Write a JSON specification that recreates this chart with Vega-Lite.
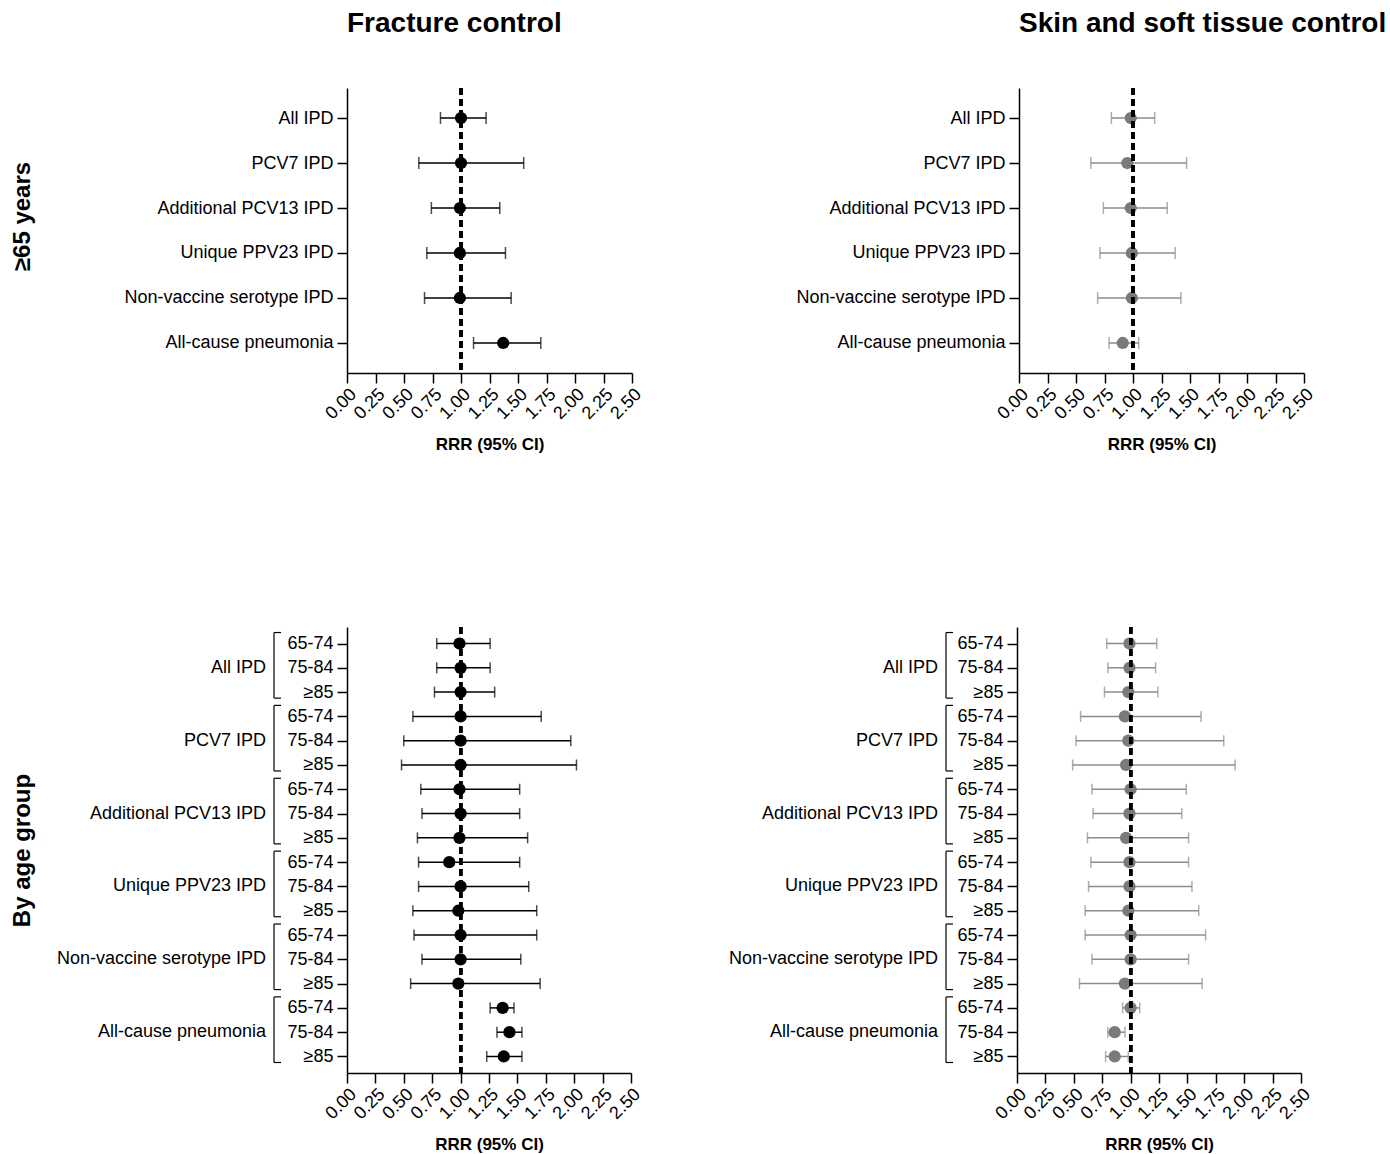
{
  "$schema": "https://vega.github.io/schema/vega-lite/v6.json",
  "padding": {"left": 10, "top": 9, "right": 5, "bottom": 0},
  "background": "white",
  "config": {
    "font": "Liberation Sans",
    "view": {"stroke": null},
    "axis": {"grid": false, "domainColor": "black", "tickColor": "black", "labelColor": "black", "titleColor": "black", "domainWidth": 1.5, "tickWidth": 1.5, "labelFontSize": 18, "labelFont": "Liberation Sans", "titleFont": "Liberation Sans", "labelOverlap": false, "labelLimit": 400},
    "title": {"color": "black", "font": "Liberation Sans"}
  },
  "datasets": {
    "topFrac": [
      {"outcome": "All IPD", "rrr": 1.00, "lo": 0.82, "hi": 1.22},
      {"outcome": "PCV7 IPD", "rrr": 1.00, "lo": 0.63, "hi": 1.55},
      {"outcome": "Additional PCV13 IPD", "rrr": 0.99, "lo": 0.74, "hi": 1.34},
      {"outcome": "Unique PPV23 IPD", "rrr": 0.99, "lo": 0.70, "hi": 1.39},
      {"outcome": "Non-vaccine serotype IPD", "rrr": 0.99, "lo": 0.68, "hi": 1.44},
      {"outcome": "All-cause pneumonia", "rrr": 1.37, "lo": 1.11, "hi": 1.70}
    ],
    "topSkin": [
      {"outcome": "All IPD", "rrr": 0.98, "lo": 0.81, "hi": 1.19},
      {"outcome": "PCV7 IPD", "rrr": 0.95, "lo": 0.63, "hi": 1.47},
      {"outcome": "Additional PCV13 IPD", "rrr": 0.98, "lo": 0.74, "hi": 1.30},
      {"outcome": "Unique PPV23 IPD", "rrr": 0.99, "lo": 0.71, "hi": 1.37},
      {"outcome": "Non-vaccine serotype IPD", "rrr": 0.99, "lo": 0.69, "hi": 1.42},
      {"outcome": "All-cause pneumonia", "rrr": 0.91, "lo": 0.79, "hi": 1.05}
    ],
    "ageFrac": [
      {"key": "All IPD|65-74", "rrr": 0.99, "lo": 0.79, "hi": 1.26},
      {"key": "All IPD|75-84", "rrr": 1.00, "lo": 0.79, "hi": 1.26},
      {"key": "All IPD|≥85", "rrr": 1.00, "lo": 0.77, "hi": 1.30},
      {"key": "PCV7 IPD|65-74", "rrr": 1.00, "lo": 0.58, "hi": 1.71},
      {"key": "PCV7 IPD|75-84", "rrr": 1.00, "lo": 0.50, "hi": 1.97},
      {"key": "PCV7 IPD|≥85", "rrr": 1.00, "lo": 0.48, "hi": 2.02},
      {"key": "Additional PCV13 IPD|65-74", "rrr": 0.99, "lo": 0.65, "hi": 1.52},
      {"key": "Additional PCV13 IPD|75-84", "rrr": 1.00, "lo": 0.66, "hi": 1.52},
      {"key": "Additional PCV13 IPD|≥85", "rrr": 0.99, "lo": 0.62, "hi": 1.59},
      {"key": "Unique PPV23 IPD|65-74", "rrr": 0.90, "lo": 0.63, "hi": 1.52},
      {"key": "Unique PPV23 IPD|75-84", "rrr": 1.00, "lo": 0.63, "hi": 1.60},
      {"key": "Unique PPV23 IPD|≥85", "rrr": 0.98, "lo": 0.58, "hi": 1.67},
      {"key": "Non-vaccine serotype IPD|65-74", "rrr": 1.00, "lo": 0.59, "hi": 1.67},
      {"key": "Non-vaccine serotype IPD|75-84", "rrr": 1.00, "lo": 0.66, "hi": 1.53},
      {"key": "Non-vaccine serotype IPD|≥85", "rrr": 0.98, "lo": 0.56, "hi": 1.70},
      {"key": "All-cause pneumonia|65-74", "rrr": 1.37, "lo": 1.26, "hi": 1.47},
      {"key": "All-cause pneumonia|75-84", "rrr": 1.43, "lo": 1.32, "hi": 1.54},
      {"key": "All-cause pneumonia|≥85", "rrr": 1.38, "lo": 1.23, "hi": 1.54}
    ],
    "ageSkin": [
      {"key": "All IPD|65-74", "rrr": 0.99, "lo": 0.79, "hi": 1.23},
      {"key": "All IPD|75-84", "rrr": 0.99, "lo": 0.80, "hi": 1.22},
      {"key": "All IPD|≥85", "rrr": 0.98, "lo": 0.77, "hi": 1.24},
      {"key": "PCV7 IPD|65-74", "rrr": 0.95, "lo": 0.56, "hi": 1.62},
      {"key": "PCV7 IPD|75-84", "rrr": 0.98, "lo": 0.52, "hi": 1.82},
      {"key": "PCV7 IPD|≥85", "rrr": 0.96, "lo": 0.49, "hi": 1.92},
      {"key": "Additional PCV13 IPD|65-74", "rrr": 1.00, "lo": 0.66, "hi": 1.49},
      {"key": "Additional PCV13 IPD|75-84", "rrr": 0.99, "lo": 0.67, "hi": 1.45},
      {"key": "Additional PCV13 IPD|≥85", "rrr": 0.96, "lo": 0.62, "hi": 1.51},
      {"key": "Unique PPV23 IPD|65-74", "rrr": 0.99, "lo": 0.65, "hi": 1.51},
      {"key": "Unique PPV23 IPD|75-84", "rrr": 0.99, "lo": 0.63, "hi": 1.54},
      {"key": "Unique PPV23 IPD|≥85", "rrr": 0.98, "lo": 0.60, "hi": 1.60},
      {"key": "Non-vaccine serotype IPD|65-74", "rrr": 1.00, "lo": 0.60, "hi": 1.66},
      {"key": "Non-vaccine serotype IPD|75-84", "rrr": 1.00, "lo": 0.66, "hi": 1.51},
      {"key": "Non-vaccine serotype IPD|≥85", "rrr": 0.95, "lo": 0.55, "hi": 1.63},
      {"key": "All-cause pneumonia|65-74", "rrr": 1.00, "lo": 0.93, "hi": 1.08},
      {"key": "All-cause pneumonia|75-84", "rrr": 0.86, "lo": 0.80, "hi": 0.95},
      {"key": "All-cause pneumonia|≥85", "rrr": 0.86, "lo": 0.78, "hi": 0.98}
    ],
    "groups": [
      {"group": "All IPD", "first": "All IPD|65-74", "mid": "All IPD|75-84", "last": "All IPD|≥85"},
      {"group": "PCV7 IPD", "first": "PCV7 IPD|65-74", "mid": "PCV7 IPD|75-84", "last": "PCV7 IPD|≥85"},
      {"group": "Additional PCV13 IPD", "first": "Additional PCV13 IPD|65-74", "mid": "Additional PCV13 IPD|75-84", "last": "Additional PCV13 IPD|≥85"},
      {"group": "Unique PPV23 IPD", "first": "Unique PPV23 IPD|65-74", "mid": "Unique PPV23 IPD|75-84", "last": "Unique PPV23 IPD|≥85"},
      {"group": "Non-vaccine serotype IPD", "first": "Non-vaccine serotype IPD|65-74", "mid": "Non-vaccine serotype IPD|75-84", "last": "Non-vaccine serotype IPD|≥85"},
      {"group": "All-cause pneumonia", "first": "All-cause pneumonia|65-74", "mid": "All-cause pneumonia|75-84", "last": "All-cause pneumonia|≥85"}
    ]
  },
  "spacing": 172,
  "resolve": {"scale": {"x": "independent", "y": "independent"}},
  "vconcat": [
    {
      "spacing": 148,
      "resolve": {"scale": {"x": "independent", "y": "independent"}},
      "hconcat": [
        {
          "width": 285, "height": 285,
          "title": {"text": "Fracture control", "anchor": "start", "frame": "group", "fontSize": 28, "fontWeight": "bold", "offset": 49},
          "data": {"name": "topFrac"},
          "layer": [
            {
              "encoding": {"y": {"field": "outcome", "type": "nominal", "sort": null, "scale": {"type": "point", "padding": 0.667, "domain": ["All IPD", "PCV7 IPD", "Additional PCV13 IPD", "Unique PPV23 IPD", "Non-vaccine serotype IPD", "All-cause pneumonia"]}, "axis": {"tickSize": 10, "labelPadding": 4, "minExtent": 226, "maxExtent": 226, "title": "≥65 years", "titleFontSize": 24, "titleFontWeight": "bold", "titlePadding": 87, "titleY": 128}}},
              "layer": [
                {"mark": {"type": "rule", "color": "black", "strokeWidth": 1.5}, "encoding": {"x": {"field": "lo", "type": "quantitative", "scale": {"domain": [0, 2.5], "nice": false}, "axis": {"values": [0, 0.25, 0.5, 0.75, 1, 1.25, 1.5, 1.75, 2, 2.25, 2.5], "format": ".2f", "labelAngle": -45, "labelFontSize": 18, "tickSize": 10, "labelPadding": 2, "title": "RRR (95% CI)", "titleFontSize": 17, "titleFontWeight": "bold", "titlePadding": 14}}, "x2": {"field": "hi"}}},
                {"mark": {"type": "tick", "color": "black", "thickness": 1.5, "size": 12}, "encoding": {"x": {"field": "lo", "type": "quantitative", "scale": {"domain": [0, 2.5], "nice": false}, "axis": {"values": [0, 0.25, 0.5, 0.75, 1, 1.25, 1.5, 1.75, 2, 2.25, 2.5], "format": ".2f", "labelAngle": -45, "labelFontSize": 18, "tickSize": 10, "labelPadding": 2, "title": "RRR (95% CI)", "titleFontSize": 17, "titleFontWeight": "bold", "titlePadding": 14}}}},
                {"mark": {"type": "tick", "color": "black", "thickness": 1.5, "size": 12}, "encoding": {"x": {"field": "hi", "type": "quantitative", "scale": {"domain": [0, 2.5], "nice": false}, "axis": {"values": [0, 0.25, 0.5, 0.75, 1, 1.25, 1.5, 1.75, 2, 2.25, 2.5], "format": ".2f", "labelAngle": -45, "labelFontSize": 18, "tickSize": 10, "labelPadding": 2, "title": "RRR (95% CI)", "titleFontSize": 17, "titleFontWeight": "bold", "titlePadding": 14}}}},
                {"mark": {"type": "circle", "color": "black", "size": 150, "opacity": 1}, "encoding": {"x": {"field": "rrr", "type": "quantitative", "scale": {"domain": [0, 2.5], "nice": false}, "axis": {"values": [0, 0.25, 0.5, 0.75, 1, 1.25, 1.5, 1.75, 2, 2.25, 2.5], "format": ".2f", "labelAngle": -45, "labelFontSize": 18, "tickSize": 10, "labelPadding": 2, "title": "RRR (95% CI)", "titleFontSize": 17, "titleFontWeight": "bold", "titlePadding": 14}}}}
              ]
            },
            {"mark": {"type": "rule", "color": "black", "strokeWidth": 3, "strokeDash": [7, 4]}, "encoding": {"x": {"datum": 1, "type": "quantitative", "scale": {"domain": [0, 2.5], "nice": false}, "axis": {"values": [0, 0.25, 0.5, 0.75, 1, 1.25, 1.5, 1.75, 2, 2.25, 2.5], "format": ".2f", "labelAngle": -45, "labelFontSize": 18, "tickSize": 10, "labelPadding": 2, "title": "RRR (95% CI)", "titleFontSize": 17, "titleFontWeight": "bold", "titlePadding": 14}}}}
          ]
        },
        {
          "width": 285, "height": 285,
          "title": {"text": "Skin and soft tissue control", "anchor": "start", "frame": "group", "fontSize": 28, "fontWeight": "bold", "offset": 49},
          "data": {"name": "topSkin"},
          "layer": [
            {
              "encoding": {"y": {"field": "outcome", "type": "nominal", "sort": null, "scale": {"type": "point", "padding": 0.667, "domain": ["All IPD", "PCV7 IPD", "Additional PCV13 IPD", "Unique PPV23 IPD", "Non-vaccine serotype IPD", "All-cause pneumonia"]}, "axis": {"tickSize": 10, "labelPadding": 4, "minExtent": 226, "maxExtent": 226, "title": null}}},
              "layer": [
                {"mark": {"type": "rule", "color": "#8c8c8c", "strokeWidth": 1.5}, "encoding": {"x": {"field": "lo", "type": "quantitative", "scale": {"domain": [0, 2.5], "nice": false}, "axis": {"values": [0, 0.25, 0.5, 0.75, 1, 1.25, 1.5, 1.75, 2, 2.25, 2.5], "format": ".2f", "labelAngle": -45, "labelFontSize": 18, "tickSize": 10, "labelPadding": 2, "title": "RRR (95% CI)", "titleFontSize": 17, "titleFontWeight": "bold", "titlePadding": 14}}, "x2": {"field": "hi"}}},
                {"mark": {"type": "tick", "color": "#8c8c8c", "thickness": 1.5, "size": 12}, "encoding": {"x": {"field": "lo", "type": "quantitative", "scale": {"domain": [0, 2.5], "nice": false}, "axis": {"values": [0, 0.25, 0.5, 0.75, 1, 1.25, 1.5, 1.75, 2, 2.25, 2.5], "format": ".2f", "labelAngle": -45, "labelFontSize": 18, "tickSize": 10, "labelPadding": 2, "title": "RRR (95% CI)", "titleFontSize": 17, "titleFontWeight": "bold", "titlePadding": 14}}}},
                {"mark": {"type": "tick", "color": "#8c8c8c", "thickness": 1.5, "size": 12}, "encoding": {"x": {"field": "hi", "type": "quantitative", "scale": {"domain": [0, 2.5], "nice": false}, "axis": {"values": [0, 0.25, 0.5, 0.75, 1, 1.25, 1.5, 1.75, 2, 2.25, 2.5], "format": ".2f", "labelAngle": -45, "labelFontSize": 18, "tickSize": 10, "labelPadding": 2, "title": "RRR (95% CI)", "titleFontSize": 17, "titleFontWeight": "bold", "titlePadding": 14}}}},
                {"mark": {"type": "circle", "color": "#7a7a7a", "size": 150, "opacity": 1}, "encoding": {"x": {"field": "rrr", "type": "quantitative", "scale": {"domain": [0, 2.5], "nice": false}, "axis": {"values": [0, 0.25, 0.5, 0.75, 1, 1.25, 1.5, 1.75, 2, 2.25, 2.5], "format": ".2f", "labelAngle": -45, "labelFontSize": 18, "tickSize": 10, "labelPadding": 2, "title": "RRR (95% CI)", "titleFontSize": 17, "titleFontWeight": "bold", "titlePadding": 14}}}}
              ]
            },
            {"mark": {"type": "rule", "color": "black", "strokeWidth": 3, "strokeDash": [7, 4]}, "encoding": {"x": {"datum": 1, "type": "quantitative", "scale": {"domain": [0, 2.5], "nice": false}, "axis": {"values": [0, 0.25, 0.5, 0.75, 1, 1.25, 1.5, 1.75, 2, 2.25, 2.5], "format": ".2f", "labelAngle": -45, "labelFontSize": 18, "tickSize": 10, "labelPadding": 2, "title": "RRR (95% CI)", "titleFontSize": 17, "titleFontWeight": "bold", "titlePadding": 14}}}}
          ]
        }
      ]
    },
    {
      "spacing": 84,
      "resolve": {"scale": {"x": "independent", "y": "independent"}},
      "hconcat": [
        {
          "width": 284, "height": 446,
          "layer": [
            {
              "data": {"name": "ageFrac"},
              "encoding": {"y": {"field": "key", "type": "nominal", "sort": null, "scale": {"type": "point", "padding": 0.68, "domain": ["All IPD|65-74", "All IPD|75-84", "All IPD|≥85", "PCV7 IPD|65-74", "PCV7 IPD|75-84", "PCV7 IPD|≥85", "Additional PCV13 IPD|65-74", "Additional PCV13 IPD|75-84", "Additional PCV13 IPD|≥85", "Unique PPV23 IPD|65-74", "Unique PPV23 IPD|75-84", "Unique PPV23 IPD|≥85", "Non-vaccine serotype IPD|65-74", "Non-vaccine serotype IPD|75-84", "Non-vaccine serotype IPD|≥85", "All-cause pneumonia|65-74", "All-cause pneumonia|75-84", "All-cause pneumonia|≥85"]}, "axis": {"labelExpr": "split(datum.value, '|')[1]", "tickSize": 10, "labelPadding": 4, "minExtent": 63, "maxExtent": 63, "title": "By age group", "titleFontSize": 24, "titleFontWeight": "bold", "titlePadding": 250}}},
              "layer": [
                {"mark": {"type": "rule", "color": "black", "strokeWidth": 1.5}, "encoding": {"x": {"field": "lo", "type": "quantitative", "scale": {"domain": [0, 2.5], "nice": false}, "axis": {"values": [0, 0.25, 0.5, 0.75, 1, 1.25, 1.5, 1.75, 2, 2.25, 2.5], "format": ".2f", "labelAngle": -45, "labelFontSize": 18, "tickSize": 10, "labelPadding": 2, "title": "RRR (95% CI)", "titleFontSize": 17, "titleFontWeight": "bold", "titlePadding": 14}}, "x2": {"field": "hi"}}},
                {"mark": {"type": "tick", "color": "black", "thickness": 1.5, "size": 11}, "encoding": {"x": {"field": "lo", "type": "quantitative", "scale": {"domain": [0, 2.5], "nice": false}, "axis": {"values": [0, 0.25, 0.5, 0.75, 1, 1.25, 1.5, 1.75, 2, 2.25, 2.5], "format": ".2f", "labelAngle": -45, "labelFontSize": 18, "tickSize": 10, "labelPadding": 2, "title": "RRR (95% CI)", "titleFontSize": 17, "titleFontWeight": "bold", "titlePadding": 14}}}},
                {"mark": {"type": "tick", "color": "black", "thickness": 1.5, "size": 11}, "encoding": {"x": {"field": "hi", "type": "quantitative", "scale": {"domain": [0, 2.5], "nice": false}, "axis": {"values": [0, 0.25, 0.5, 0.75, 1, 1.25, 1.5, 1.75, 2, 2.25, 2.5], "format": ".2f", "labelAngle": -45, "labelFontSize": 18, "tickSize": 10, "labelPadding": 2, "title": "RRR (95% CI)", "titleFontSize": 17, "titleFontWeight": "bold", "titlePadding": 14}}}},
                {"mark": {"type": "circle", "color": "black", "size": 150, "opacity": 1}, "encoding": {"x": {"field": "rrr", "type": "quantitative", "scale": {"domain": [0, 2.5], "nice": false}, "axis": {"values": [0, 0.25, 0.5, 0.75, 1, 1.25, 1.5, 1.75, 2, 2.25, 2.5], "format": ".2f", "labelAngle": -45, "labelFontSize": 18, "tickSize": 10, "labelPadding": 2, "title": "RRR (95% CI)", "titleFontSize": 17, "titleFontWeight": "bold", "titlePadding": 14}}}}
              ]
            },
            {
              "data": {"name": "groups"},
              "layer": [
                {"mark": {"type": "rule", "color": "black", "strokeWidth": 1.2, "xOffset": -73, "yOffset": -11, "y2Offset": 6}, "encoding": {"x": {"datum": 0, "type": "quantitative", "scale": {"domain": [0, 2.5], "nice": false}, "axis": {"values": [0, 0.25, 0.5, 0.75, 1, 1.25, 1.5, 1.75, 2, 2.25, 2.5], "format": ".2f", "labelAngle": -45, "labelFontSize": 18, "tickSize": 10, "labelPadding": 2, "title": "RRR (95% CI)", "titleFontSize": 17, "titleFontWeight": "bold", "titlePadding": 14}}, "y": {"field": "first", "type": "nominal", "sort": null, "scale": {"type": "point", "padding": 0.68, "domain": ["All IPD|65-74", "All IPD|75-84", "All IPD|≥85", "PCV7 IPD|65-74", "PCV7 IPD|75-84", "PCV7 IPD|≥85", "Additional PCV13 IPD|65-74", "Additional PCV13 IPD|75-84", "Additional PCV13 IPD|≥85", "Unique PPV23 IPD|65-74", "Unique PPV23 IPD|75-84", "Unique PPV23 IPD|≥85", "Non-vaccine serotype IPD|65-74", "Non-vaccine serotype IPD|75-84", "Non-vaccine serotype IPD|≥85", "All-cause pneumonia|65-74", "All-cause pneumonia|75-84", "All-cause pneumonia|≥85"]}, "axis": {"labelExpr": "split(datum.value, '|')[1]", "tickSize": 10, "labelPadding": 4, "minExtent": 63, "maxExtent": 63, "title": "By age group", "titleFontSize": 24, "titleFontWeight": "bold", "titlePadding": 250}}, "y2": {"field": "last"}}},
                {"mark": {"type": "rule", "color": "black", "strokeWidth": 1.2, "xOffset": -73, "x2Offset": -66, "yOffset": -11}, "encoding": {"x": {"datum": 0, "type": "quantitative", "scale": {"domain": [0, 2.5], "nice": false}, "axis": {"values": [0, 0.25, 0.5, 0.75, 1, 1.25, 1.5, 1.75, 2, 2.25, 2.5], "format": ".2f", "labelAngle": -45, "labelFontSize": 18, "tickSize": 10, "labelPadding": 2, "title": "RRR (95% CI)", "titleFontSize": 17, "titleFontWeight": "bold", "titlePadding": 14}}, "x2": {"datum": 0}, "y": {"field": "first", "type": "nominal", "sort": null}}},
                {"mark": {"type": "rule", "color": "black", "strokeWidth": 1.2, "xOffset": -73, "x2Offset": -66, "yOffset": 6}, "encoding": {"x": {"datum": 0, "type": "quantitative", "scale": {"domain": [0, 2.5], "nice": false}, "axis": {"values": [0, 0.25, 0.5, 0.75, 1, 1.25, 1.5, 1.75, 2, 2.25, 2.5], "format": ".2f", "labelAngle": -45, "labelFontSize": 18, "tickSize": 10, "labelPadding": 2, "title": "RRR (95% CI)", "titleFontSize": 17, "titleFontWeight": "bold", "titlePadding": 14}}, "x2": {"datum": 0}, "y": {"field": "last", "type": "nominal", "sort": null}}},
                {"mark": {"type": "text", "color": "black", "fontSize": 18, "align": "right", "baseline": "middle", "xOffset": -81}, "encoding": {"x": {"datum": 0, "type": "quantitative", "scale": {"domain": [0, 2.5], "nice": false}, "axis": {"values": [0, 0.25, 0.5, 0.75, 1, 1.25, 1.5, 1.75, 2, 2.25, 2.5], "format": ".2f", "labelAngle": -45, "labelFontSize": 18, "tickSize": 10, "labelPadding": 2, "title": "RRR (95% CI)", "titleFontSize": 17, "titleFontWeight": "bold", "titlePadding": 14}}, "y": {"field": "mid", "type": "nominal", "sort": null}, "text": {"field": "group"}}}
              ]
            },
            {"data": {"name": "ageFrac"}, "mark": {"type": "rule", "color": "black", "strokeWidth": 3, "strokeDash": [7, 4]}, "encoding": {"x": {"datum": 1, "type": "quantitative", "scale": {"domain": [0, 2.5], "nice": false}, "axis": {"values": [0, 0.25, 0.5, 0.75, 1, 1.25, 1.5, 1.75, 2, 2.25, 2.5], "format": ".2f", "labelAngle": -45, "labelFontSize": 18, "tickSize": 10, "labelPadding": 2, "title": "RRR (95% CI)", "titleFontSize": 17, "titleFontWeight": "bold", "titlePadding": 14}}}}
          ]
        },
        {
          "width": 284, "height": 446,
          "layer": [
            {
              "data": {"name": "ageSkin"},
              "encoding": {"y": {"field": "key", "type": "nominal", "sort": null, "scale": {"type": "point", "padding": 0.68, "domain": ["All IPD|65-74", "All IPD|75-84", "All IPD|≥85", "PCV7 IPD|65-74", "PCV7 IPD|75-84", "PCV7 IPD|≥85", "Additional PCV13 IPD|65-74", "Additional PCV13 IPD|75-84", "Additional PCV13 IPD|≥85", "Unique PPV23 IPD|65-74", "Unique PPV23 IPD|75-84", "Unique PPV23 IPD|≥85", "Non-vaccine serotype IPD|65-74", "Non-vaccine serotype IPD|75-84", "Non-vaccine serotype IPD|≥85", "All-cause pneumonia|65-74", "All-cause pneumonia|75-84", "All-cause pneumonia|≥85"]}, "axis": {"labelExpr": "split(datum.value, '|')[1]", "tickSize": 10, "labelPadding": 4, "minExtent": 61, "title": null}}},
              "layer": [
                {"mark": {"type": "rule", "color": "#8c8c8c", "strokeWidth": 1.5}, "encoding": {"x": {"field": "lo", "type": "quantitative", "scale": {"domain": [0, 2.5], "nice": false}, "axis": {"values": [0, 0.25, 0.5, 0.75, 1, 1.25, 1.5, 1.75, 2, 2.25, 2.5], "format": ".2f", "labelAngle": -45, "labelFontSize": 18, "tickSize": 10, "labelPadding": 2, "title": "RRR (95% CI)", "titleFontSize": 17, "titleFontWeight": "bold", "titlePadding": 14}}, "x2": {"field": "hi"}}},
                {"mark": {"type": "tick", "color": "#8c8c8c", "thickness": 1.5, "size": 11}, "encoding": {"x": {"field": "lo", "type": "quantitative", "scale": {"domain": [0, 2.5], "nice": false}, "axis": {"values": [0, 0.25, 0.5, 0.75, 1, 1.25, 1.5, 1.75, 2, 2.25, 2.5], "format": ".2f", "labelAngle": -45, "labelFontSize": 18, "tickSize": 10, "labelPadding": 2, "title": "RRR (95% CI)", "titleFontSize": 17, "titleFontWeight": "bold", "titlePadding": 14}}}},
                {"mark": {"type": "tick", "color": "#8c8c8c", "thickness": 1.5, "size": 11}, "encoding": {"x": {"field": "hi", "type": "quantitative", "scale": {"domain": [0, 2.5], "nice": false}, "axis": {"values": [0, 0.25, 0.5, 0.75, 1, 1.25, 1.5, 1.75, 2, 2.25, 2.5], "format": ".2f", "labelAngle": -45, "labelFontSize": 18, "tickSize": 10, "labelPadding": 2, "title": "RRR (95% CI)", "titleFontSize": 17, "titleFontWeight": "bold", "titlePadding": 14}}}},
                {"mark": {"type": "circle", "color": "#7a7a7a", "size": 150, "opacity": 1}, "encoding": {"x": {"field": "rrr", "type": "quantitative", "scale": {"domain": [0, 2.5], "nice": false}, "axis": {"values": [0, 0.25, 0.5, 0.75, 1, 1.25, 1.5, 1.75, 2, 2.25, 2.5], "format": ".2f", "labelAngle": -45, "labelFontSize": 18, "tickSize": 10, "labelPadding": 2, "title": "RRR (95% CI)", "titleFontSize": 17, "titleFontWeight": "bold", "titlePadding": 14}}}}
              ]
            },
            {
              "data": {"name": "groups"},
              "layer": [
                {"mark": {"type": "rule", "color": "black", "strokeWidth": 1.2, "xOffset": -71, "yOffset": -11, "y2Offset": 6}, "encoding": {"x": {"datum": 0, "type": "quantitative", "scale": {"domain": [0, 2.5], "nice": false}, "axis": {"values": [0, 0.25, 0.5, 0.75, 1, 1.25, 1.5, 1.75, 2, 2.25, 2.5], "format": ".2f", "labelAngle": -45, "labelFontSize": 18, "tickSize": 10, "labelPadding": 2, "title": "RRR (95% CI)", "titleFontSize": 17, "titleFontWeight": "bold", "titlePadding": 14}}, "y": {"field": "first", "type": "nominal", "sort": null, "scale": {"type": "point", "padding": 0.68, "domain": ["All IPD|65-74", "All IPD|75-84", "All IPD|≥85", "PCV7 IPD|65-74", "PCV7 IPD|75-84", "PCV7 IPD|≥85", "Additional PCV13 IPD|65-74", "Additional PCV13 IPD|75-84", "Additional PCV13 IPD|≥85", "Unique PPV23 IPD|65-74", "Unique PPV23 IPD|75-84", "Unique PPV23 IPD|≥85", "Non-vaccine serotype IPD|65-74", "Non-vaccine serotype IPD|75-84", "Non-vaccine serotype IPD|≥85", "All-cause pneumonia|65-74", "All-cause pneumonia|75-84", "All-cause pneumonia|≥85"]}, "axis": {"labelExpr": "split(datum.value, '|')[1]", "tickSize": 10, "labelPadding": 4, "minExtent": 61, "title": null}}, "y2": {"field": "last"}}},
                {"mark": {"type": "rule", "color": "black", "strokeWidth": 1.2, "xOffset": -71, "x2Offset": -64, "yOffset": -11}, "encoding": {"x": {"datum": 0, "type": "quantitative", "scale": {"domain": [0, 2.5], "nice": false}, "axis": {"values": [0, 0.25, 0.5, 0.75, 1, 1.25, 1.5, 1.75, 2, 2.25, 2.5], "format": ".2f", "labelAngle": -45, "labelFontSize": 18, "tickSize": 10, "labelPadding": 2, "title": "RRR (95% CI)", "titleFontSize": 17, "titleFontWeight": "bold", "titlePadding": 14}}, "x2": {"datum": 0}, "y": {"field": "first", "type": "nominal", "sort": null}}},
                {"mark": {"type": "rule", "color": "black", "strokeWidth": 1.2, "xOffset": -71, "x2Offset": -64, "yOffset": 6}, "encoding": {"x": {"datum": 0, "type": "quantitative", "scale": {"domain": [0, 2.5], "nice": false}, "axis": {"values": [0, 0.25, 0.5, 0.75, 1, 1.25, 1.5, 1.75, 2, 2.25, 2.5], "format": ".2f", "labelAngle": -45, "labelFontSize": 18, "tickSize": 10, "labelPadding": 2, "title": "RRR (95% CI)", "titleFontSize": 17, "titleFontWeight": "bold", "titlePadding": 14}}, "x2": {"datum": 0}, "y": {"field": "last", "type": "nominal", "sort": null}}},
                {"mark": {"type": "text", "color": "black", "fontSize": 18, "align": "right", "baseline": "middle", "xOffset": -79}, "encoding": {"x": {"datum": 0, "type": "quantitative", "scale": {"domain": [0, 2.5], "nice": false}, "axis": {"values": [0, 0.25, 0.5, 0.75, 1, 1.25, 1.5, 1.75, 2, 2.25, 2.5], "format": ".2f", "labelAngle": -45, "labelFontSize": 18, "tickSize": 10, "labelPadding": 2, "title": "RRR (95% CI)", "titleFontSize": 17, "titleFontWeight": "bold", "titlePadding": 14}}, "y": {"field": "mid", "type": "nominal", "sort": null}, "text": {"field": "group"}}}
              ]
            },
            {"data": {"name": "ageSkin"}, "mark": {"type": "rule", "color": "black", "strokeWidth": 3, "strokeDash": [7, 4]}, "encoding": {"x": {"datum": 1, "type": "quantitative", "scale": {"domain": [0, 2.5], "nice": false}, "axis": {"values": [0, 0.25, 0.5, 0.75, 1, 1.25, 1.5, 1.75, 2, 2.25, 2.5], "format": ".2f", "labelAngle": -45, "labelFontSize": 18, "tickSize": 10, "labelPadding": 2, "title": "RRR (95% CI)", "titleFontSize": 17, "titleFontWeight": "bold", "titlePadding": 14}}}}
          ]
        }
      ]
    }
  ]
}
